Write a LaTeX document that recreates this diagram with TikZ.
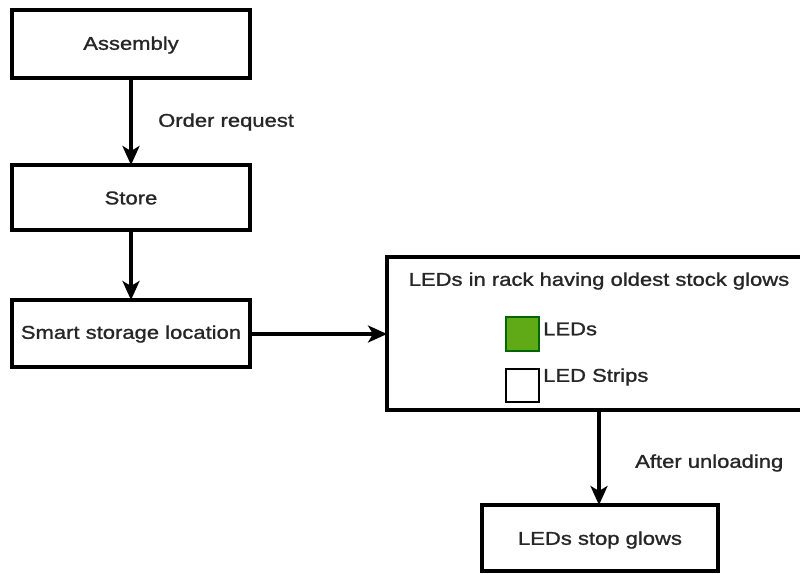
\documentclass[tikz,border=0pt]{standalone}
\usepackage{fontspec}
\setmainfont{Liberation Sans}[FakeStretch=1.19, FakeBold=1.2]
\usetikzlibrary{arrows.meta}
\tikzset{
  boxnode/.style={draw=black, line width=3.4pt, fill=white},
  flow/.style={line width=3.2pt, -{Stealth[length=19pt, width=17pt, inset=5pt]}},
  lbl/.style={inner sep=0pt, font=\fontsize{18.5}{22}\selectfont, text=black!85},
  swatch/.style={draw=black, line width=1.6pt},
}
\begin{document}
\begin{tikzpicture}[x=1pt, y=-1pt, every node/.style={lbl}]
\useasboundingbox (0,0) rectangle (800,573);
\clip (0,0) rectangle (800,573);

% left column of process steps
\draw[boxnode] (12,10) rectangle (250,78);
\node (assembly) at (131,45) {Assembly};
\coordinate (assemblyS) at (131,78);

\draw[boxnode] (12,165) rectangle (250,230);
\node (store) at (131,198) {Store};
\coordinate (storeN) at (131,165);
\coordinate (storeS) at (131,230);

\draw[boxnode] (12,300) rectangle (250,367);
\node (smart) at (131,334) {Smart storage location};
\coordinate (smartN) at (131,300);
\coordinate (smartE) at (250,334);

% rack indicator panel
\draw[boxnode] (387,257) rectangle (806,410);
\node (rack) at (599,281) {LEDs in rack having oldest stock glows};
\coordinate (rackW) at (387,334);
\coordinate (rackS) at (599,410);

\draw[swatch, draw=green!40!black, fill={rgb,255:red,96;green,169;blue,23}] (506,317) rectangle (539,351);
\node[anchor=west] (leds) at (543,329) {LEDs};
\draw[swatch, fill=white] (506,369) rectangle (539,402);
\node[anchor=west] (strips) at (543,377) {LED Strips};

% final step
\draw[boxnode] (482,505) rectangle (718,571);
\node (stop) at (600,540) {LEDs stop glows};
\coordinate (stopN) at (599,505);

% connectors
\draw[flow] (assemblyS) -- (storeN);
\node[anchor=west] (order) at (158,122) {Order request};
\draw[flow] (storeS) -- (smartN);
\draw[flow] (smartE) -- (rackW);
\draw[flow] (rackS) -- (stopN);
\node[anchor=west] (unload) at (635,463) {After unloading};
\end{tikzpicture}
\end{document}
